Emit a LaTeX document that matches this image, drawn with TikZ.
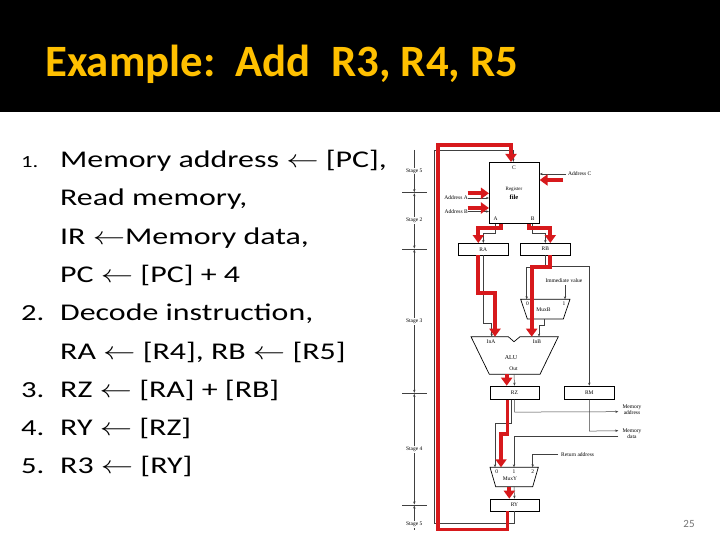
\documentclass[tikz,border=0pt]{standalone}
\usepackage{fontspec}
\usepackage{graphicx}
\setmainfont{Carlito}
\newfontfamily\bodyfont[FakeStretch=1.33]{Carlito}
\newfontfamily\diagfont{Liberation Serif}
\usetikzlibrary{arrows.meta,calc}
\definecolor{titleyellow}{HTML}{FFC000}
\definecolor{redpath}{HTML}{D7191C}
\newcommand{\larr}{\scalebox{1.3}[1]{$\leftarrow$}}
\begin{document}
\begin{tikzpicture}[x=1pt,y=-1pt,
  thinln/.style={draw=black!75, line width=0.5pt},
  thinarr/.style={thinln, -{Stealth[length=3pt,width=2.4pt]}},
  redln/.style={draw=redpath, line width=3.7pt},
  redarr/.style={redln, -{Triangle[length=8pt,width=11pt]}},
  regbox/.style={draw, line width=0.7pt, inner sep=0pt, font=\diagfont\fontsize{5.5}{6}\selectfont},
  muxshape/.style={draw, line width=0.7pt},
  lbl/.style={inner sep=0pt, font=\diagfont\fontsize{5.5}{6}\selectfont},
  stagelbl/.style={lbl, fill=white, inner sep=1pt},
  bodytext/.style={anchor=base west, inner sep=0pt, font=\bodyfont\fontsize{24}{28}\selectfont},
  numtext/.style={anchor=base west, inner sep=0pt, font=\bodyfont\fontsize{23}{26}\selectfont},
]
\useasboundingbox (0,0) rectangle (720,540);
\fill[white] (0,0) rectangle (720,540);
\fill[black] (0,0) rectangle (720,112.3);
\node[anchor=base west, text=titleyellow, font=\bfseries\fontsize{44.8}{50}\selectfont, inner sep=0pt] (title) at (45,77) {Example:\ \ Add\ \ R3, R4, R5};

% ---- left text ----
\node[numtext, font=\bodyfont\fontsize{17}{20}\selectfont] (n1) at (21,167.5) {1.};
\node[bodytext] (l1) at (60,167.5) {Memory address \larr\ [PC],};
\node[bodytext] (l2) at (60,205.8) {Read memory,};
\node[bodytext] (l3) at (60,244.1) {IR \larr Memory data,};
\node[bodytext] (l4) at (60,282.4) {PC \larr\ [PC] + 4};
\node[numtext] (n2) at (21,320.7) {2.};
\node[bodytext] (l5) at (60,320.7) {Decode instruction,};
\node[bodytext] (l6) at (60,359) {RA \larr\ [R4], RB \larr\ [R5]};
\node[numtext] (n3) at (21,397.3) {3.};
\node[bodytext] (l7) at (60,397.3) {RZ \larr\ [RA] + [RB]};
\node[numtext] (n4) at (21,435.6) {4.};
\node[bodytext] (l8) at (60,435.6) {RY \larr\ [RZ]};
\node[numtext] (n5) at (21,473.9) {5.};
\node[bodytext] (l9) at (60,473.9) {R3 \larr\ [RY]};

\node[anchor=base, inner sep=0pt, text=black!55, font=\fontsize{11}{13}\selectfont] (pnum) at (689,527.5) {25};

% ---- boxes ----
\node[regbox, minimum width=50pt, minimum height=61pt] (regfile) at (514.3,192.8) {};
\node[lbl] (regC) at (514,168) {C};
\node[lbl, font=\diagfont\fontsize{5}{6}\selectfont] (reglbl) at (514,189) {Register};
\node[lbl, font=\diagfont\bfseries\fontsize{6.5}{7}\selectfont] (filelbl) at (514,197.5) {file};
\node[lbl] (regA) at (495.7,218.5) {A};
\node[lbl] (regB) at (532.7,218.5) {B};
\node[regbox, minimum width=50pt, minimum height=11.7pt] (RA) at (483.3,249.2) {RA};
\node[regbox, minimum width=49.3pt, minimum height=11.7pt] (RB) at (545.3,249.2) {RB};
\node[regbox, minimum width=49pt, minimum height=13.3pt] (RZ) at (514.5,392.7) {RZ};
\node[regbox, minimum width=50pt, minimum height=13.3pt] (RM) at (589.3,392.7) {RM};
\node[regbox, minimum width=49pt, minimum height=12pt] (RY) at (514.5,505) {RY};

% ALU
\draw[muxshape] (471,336.7) -- (508.3,336.7) -- (514,341.7) -- (520,336.7) -- (558.3,336.7) -- (540,374.3) -- (489.3,374.3) -- cycle;
\coordinate (aluInA) at (495,336.7);
\coordinate (aluInAt) at (491.7,336.7);
\coordinate (aluInB) at (531.7,336.7);
\coordinate (aluInBt) at (539,336.7);
\coordinate (aluOut) at (514,374.3);
\coordinate (aluOutR) at (506.7,374.3);
\node[lbl] (InA) at (491,341.9) {InA};
\node[lbl] (InB) at (537,341.9) {InB};
\node[lbl, font=\diagfont\fontsize{6}{7}\selectfont] (alulbl) at (511,357.3) {ALU};
\node[lbl] (outlbl) at (513.5,368.3) {Out};

% MuxB
\draw[muxshape] (520.7,299.3) -- (570,299.3) -- (563.3,319) -- (527.3,319) -- cycle;
\coordinate (muxB0) at (526.7,299.3);
\coordinate (muxB1) at (565,299.3);
\coordinate (muxBout) at (544,319);
\node[lbl] (mb0) at (527.5,303.5) {0};
\node[lbl] (mb1) at (564,303.5) {1};
\node[lbl] (mblbl) at (543.5,309.5) {MuxB};

% MuxY
\draw[muxshape] (490,467.3) -- (538.3,467.3) -- (532.7,486.7) -- (495.7,486.7) -- cycle;
\coordinate (muxY0) at (501,467.3);
\coordinate (muxY0t) at (495,467.3);
\coordinate (muxY1) at (514,467.3);
\coordinate (muxY2) at (532.7,467.3);
\coordinate (muxYout) at (514,486.7);
\coordinate (muxYoutR) at (509.3,486.7);
\node[lbl] (my0) at (496.7,471.7) {0};
\node[lbl] (my1) at (514,471.7) {1};
\node[lbl] (my2) at (532.7,471.7) {2};
\node[lbl] (mylbl) at (510,479) {MuxY};

% outside labels
\node[lbl, anchor=west] (addrClbl) at (568,173.5) {Address C};
\node[lbl, anchor=east] (addrAlbl) at (468,198) {Address A};
\node[lbl, anchor=east] (addrBlbl) at (468,211.5) {Address B};
\node[lbl] (immlbl) at (564,280.7) {Immediate value};
\node[lbl, align=center] (memaddr) at (632,410) {Memory\\address};
\node[lbl, align=center] (memdata) at (632,433.8) {Memory\\data};
\node[lbl, anchor=west] (retaddr) at (561,454.3) {Return address};
\coordinate (memaddrpt) at (618.3,411.7);
\coordinate (memdatapt) at (618.3,430.7);
\coordinate (memdatain) at (618.3,436);
\coordinate (retpt) at (558,454.3);
\coordinate (immpt) at (565,285);
\coordinate (addrCpt) at (566,174);
\coordinate (addrCred) at (563,180);
\coordinate (addrApt) at (468,198);
\coordinate (addrAred) at (467.7,193.3);
\coordinate (addrBpt) at (468,211.5);
\coordinate (addrBred) at (467.7,208);

% ---- stage dimension lines ----
\draw[thinln, -{Stealth[length=3pt,width=2.4pt]}] (414.3,150) -- (414.3,192.2);
\draw[thinln, {Stealth[length=3pt,width=2.4pt]}-{Stealth[length=3pt,width=2.4pt]}] (414.3,193.2) -- (414.3,248.5);
\draw[thinln, {Stealth[length=3pt,width=2.4pt]}-{Stealth[length=3pt,width=2.4pt]}] (414.3,249.5) -- (414.3,392.8);
\draw[thinln, {Stealth[length=3pt,width=2.4pt]}-{Stealth[length=3pt,width=2.4pt]}] (414.3,393.8) -- (414.3,504.5);
\draw[thinln, {Stealth[length=3pt,width=2.4pt]}-] (414.3,505.5) -- (414.3,530);
\foreach \yy in {192.7,249,393.3,505} \draw[thinln] (402,\yy) -- (427.3,\yy);
\node[stagelbl] (st1) at (414.3,171) {Stage 5};
\node[stagelbl] (st2) at (414.3,220.7) {Stage 2};
\node[stagelbl] (st3) at (414.3,321.7) {Stage 3};
\node[stagelbl] (st4) at (414.3,449.3) {Stage 4};
\node[stagelbl] (st5) at (414.3,524.3) {Stage 5};

% ---- thin connectors ----
\draw[thinarr] (RY.south) -- ++(0,12.3) -| (434.3,150) -| ([xshift=-1pt]regfile.north);
\draw[thinarr] (addrCpt) -- (regfile.east |- addrCpt);
\draw[thinarr] (addrApt) -- (regfile.west |- addrApt);
\draw[thinarr] (addrBpt) -- (regfile.west |- addrBpt);
\draw[thinarr] ([xshift=-18.6pt]regfile.south) -- ++(0,9.7) -| (RA.north);
\draw[thinarr] ([xshift=18.4pt]regfile.south) -- ++(0,9.7) -| (RB.north);
\draw[thinarr] (RA.south) -- (483.3,323.3) -| (aluInAt);
\draw[thinarr] (RB.south) -- ++(0,11.7) -| (muxB0);
\draw[thinarr] (545.3,266.7) -| (RM.north);
\draw[thinarr] (immpt) -- (muxB1);
\draw[thinarr] (muxBout) -- ++(0,6) -| (aluInBt);
\draw[thinarr] (aluOut) -- (RZ.north);
\draw[thinarr] (RZ.south) -- ++(0,12.4) -- (memaddrpt);
\draw[thinarr] ([xshift=-3.5pt]RZ.south) -- ++(0,24) -| (muxY0t);
\draw[thinarr] (RM.south) -- ++(0,31.4) -- (memdatapt);
\draw[thinarr] (memdatain) -| (muxY1);
\draw[thinarr] (retpt) -| (muxY2);
\draw[thinarr] (muxYout) -- (RY.north);

% ---- red overlay ----
\draw[redarr] ([xshift=-7pt]RY.south) -- ++(0,18) -| (437.7,145) -| ([xshift=-3.3pt]regfile.north);
\draw[redarr] (addrCred) -- (regfile.east |- addrCred);
\draw[redarr] (addrAred) -- (regfile.west |- addrAred);
\draw[redarr] (addrBred) -- (regfile.west |- addrBred);
\draw[redarr] ([xshift=-13.3pt]regfile.south) -- ++(0,4.4) -| ([xshift=-5pt]RA.north);
\draw[redarr] ([xshift=14.7pt]regfile.south) -- ++(0,4.4) -| ([xshift=5pt]RB.north);
\draw[redarr] ([xshift=-5pt]RA.south) -- (478.3,293.3) -| (aluInA);
\draw[redarr] ([xshift=5pt]RB.south) -- ++(0,11.7) -| (aluInB);
\draw[redarr] (aluOutR) -- ([xshift=-7.8pt]RZ.north);
\draw[redarr] ([xshift=-7pt]RZ.south) -- ++(0,34) -| (muxY0);
\draw[redarr] (muxYoutR) -- ([xshift=-5.2pt]RY.north);
\end{tikzpicture}
\end{document}
